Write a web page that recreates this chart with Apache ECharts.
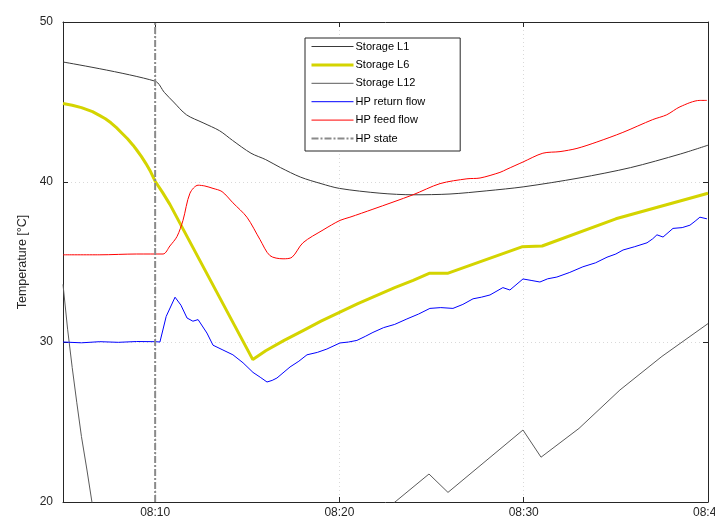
<!DOCTYPE html>
<html><head><meta charset="utf-8">
<script src="https://cdn.jsdelivr.net/npm/echarts@6/dist/echarts.min.js"></script>
<style>html,body{margin:0;padding:0;background:#fff}#c{width:715px;height:518px}</style>
</head><body><div id="c"></div>
<script>
// x values: minutes after 08:00
const xTicks = [10, 20, 30, 40];
const yTicks = [20, 30, 40, 50];
const seriesNames = ['Storage L1', 'Storage L6', 'Storage L12', 'HP return flow', 'HP feed flow', 'HP state'];

const tL1 = [5, 10, 10.5, 11, 11.7, 12.6, 13.5, 14.2, 15.2, 16, 16.8, 17.9, 19, 20, 22.2, 24, 26, 28, 30, 33, 35.8, 38.5, 40];
const vL1 = [47.5, 46.3, 45.6, 45.0, 44.2, 43.7, 43.2, 42.6, 41.8, 41.4, 40.9, 40.3, 39.9, 39.6, 39.3, 39.2, 39.25, 39.45, 39.7, 40.25, 40.9, 41.75, 42.3];

const tL6 = [5, 5.5, 6, 6.6, 7, 7.3, 7.6, 7.9, 8.2, 8.5, 8.8, 9, 9.25, 9.5, 9.75, 10, 10.4, 10.8, 15.3, 16, 17, 18, 19, 20, 21, 22, 23, 24, 24.9, 25.9, 29.9, 31, 35, 40];
const vL6 = [44.9, 44.8, 44.65, 44.4, 44.15, 43.95, 43.7, 43.4, 43.05, 42.7, 42.3, 42.0, 41.6, 41.15, 40.65, 40.05, 39.35, 38.6, 28.9, 29.45, 30.1, 30.7, 31.3, 31.85, 32.4, 32.9, 33.4, 33.85, 34.3, 34.3, 35.95, 36.0, 37.7, 39.3];

const tL12 = [5, 5.25, 5.5, 5.75, 6, 6.3, 6.57, 6.8, 15, 22.8, 23.12, 24.86, 25.89, 29.96, 30.94, 33, 35.22, 37.5, 40];
const vL12 = [33.6, 30.8, 28.4, 26.2, 24.1, 22.0, 20.0, 18.6, null, 19.8, 20.1, 21.75, 20.6, 24.5, 22.8, 24.6, 27.0, 29.1, 31.15];

const tRet = [5, 6, 7, 8, 9, 10, 10.26, 10.6, 11.08, 11.4, 11.73, 12.05, 12.33, 12.81, 13.14, 13.68, 14.22, 14.77, 15.31, 15.7, 16.07, 16.35, 16.61, 17.32, 17.8, 18.24, 18.8, 19.32, 20.03, 20.5, 20.95, 21.4, 21.82, 22.4, 23.0, 23.66, 24.3, 24.91, 25.5, 26.16, 26.7, 27.25, 27.7, 28.17, 28.87, 29.25, 29.96, 30.4, 30.88, 31.3, 31.8, 32.5, 33.21, 33.9, 34.52, 35.0, 35.39, 36.0, 36.69, 37.0, 37.23, 37.56, 38.1, 38.6, 39.02, 39.3, 39.56, 39.94];
const vRet = [30.0, 29.95, 30.02, 29.98, 30.03, 30.02, 30.0, 31.6, 32.8, 32.3, 31.5, 31.3, 31.4, 30.56, 29.8, 29.5, 29.2, 28.7, 28.1, 27.8, 27.5, 27.6, 27.75, 28.44, 28.8, 29.2, 29.35, 29.56, 29.94, 30.0, 30.1, 30.35, 30.6, 30.9, 31.1, 31.44, 31.75, 32.1, 32.15, 32.1, 32.35, 32.7, 32.8, 32.94, 33.4, 33.25, 33.94, 33.85, 33.75, 33.95, 34.06, 34.35, 34.7, 34.95, 35.3, 35.5, 35.75, 35.95, 36.2, 36.45, 36.7, 36.56, 37.1, 37.15, 37.3, 37.55, 37.8, 37.7];

const tFeed = [5, 7, 9, 10.43, 10.8, 11.19, 11.51, 11.89, 12.33, 12.7, 13.14, 13.63, 14.22, 14.98, 15.69, 16.23, 16.94, 17.43, 18.02, 19.11, 20.03, 20.57, 21.82, 23.99, 25.46, 26.92, 27.63, 28.71, 29.09, 29.96, 31.04, 31.97, 32.89, 33.97, 35.38, 37.0, 37.76, 38.48, 39.56, 39.94];
const vFeed = [35.45, 35.45, 35.5, 35.5, 36.0, 36.6, 37.6, 39.3, 39.8, 39.75, 39.6, 39.4, 38.7, 37.8, 36.4, 35.4, 35.2, 35.3, 36.2, 37.0, 37.6, 37.8, 38.3, 39.2, 39.9, 40.2, 40.25, 40.6, 40.8, 41.25, 41.8, 41.9, 42.1, 42.5, 43.1, 43.9, 44.2, 44.7, 45.1, 45.1];

const tState = [10, 10];
const vState = [20, 50];

function pairs(t, v) { return t.map((x, i) => [x, v[i]]); }
function fmtTime(m) { const h = 8 + Math.floor(m / 60); const mm = m % 60; return String(h).padStart(2, '0') + ':' + String(mm).padStart(2, '0'); }

const chart = echarts.init(document.getElementById('c'), null, { renderer: 'canvas' });
const font = 'Liberation Sans, Arial, Helvetica, sans-serif';
const axisLineStyle = { color: '#262626', width: 1 };
const gridLine = { show: true, lineStyle: { color: '#d9d9d9', type: [1, 3], width: 1 } };

function mkSeries(name, data, color, width, extra) {
  return Object.assign({
    name: name, type: 'line', data: data, showSymbol: false, symbol: 'none',
    lineStyle: { color: color, width: width }, itemStyle: { color: color },
    emphasis: { disabled: true }, animation: false, connectNulls: false, clip: true
  }, extra || {});
}

chart.setOption({
  animation: false,
  textStyle: { fontFamily: font },
  grid: { left: 63, right: 7, top: 22, bottom: 16, containLabel: false, outerBoundsMode: 'none' },
  legend: {
    orient: 'vertical', left: 305, top: 38, itemWidth: 42, itemHeight: 10, itemGap: 7.4,
    backgroundColor: '#fff', borderColor: '#262626', borderWidth: 1, borderRadius: 0,
    padding: [3, 35, 7, 5],
    itemStyle: { opacity: 0, borderWidth: 0 },
    lineStyle: { width: 'inherit' },
    textStyle: { fontFamily: font, fontSize: 11, color: '#000', padding: [0, 0, 0, -3] },
    data: seriesNames
  },
  xAxis: [{
    type: 'value', min: 5, max: 40, position: 'bottom',
    axisLine: { show: true, lineStyle: axisLineStyle },
    axisTick: { show: true, inside: true, length: 5, customValues: xTicks, lineStyle: axisLineStyle },
    axisLabel: { customValues: xTicks, formatter: v => fmtTime(v), fontSize: 12, color: '#262626', margin: 5, fontFamily: font },
    splitLine: gridLine
  }, {
    type: 'value', min: 5, max: 40, position: 'top',
    axisLine: { show: true, lineStyle: axisLineStyle },
    axisTick: { show: true, inside: true, length: 5, customValues: xTicks, lineStyle: axisLineStyle },
    axisLabel: { show: false, customValues: xTicks },
    splitLine: { show: false }
  }],
  yAxis: [{
    type: 'value', min: 20, max: 50, interval: 10, position: 'left',
    name: 'Temperature [°C]', nameLocation: 'middle', nameGap: 33,
    nameTextStyle: { fontSize: 12.5, color: '#262626', fontFamily: font },
    axisLine: { show: true, lineStyle: axisLineStyle },
    axisTick: { show: true, inside: true, length: 5, lineStyle: axisLineStyle },
    axisLabel: { fontSize: 12, color: '#262626', margin: 10, fontFamily: font },
    splitLine: gridLine
  }, {
    type: 'value', min: 20, max: 50, interval: 10, position: 'right',
    axisLine: { show: true, lineStyle: axisLineStyle },
    axisTick: { show: true, inside: true, length: 5, lineStyle: axisLineStyle },
    axisLabel: { show: false },
    splitLine: { show: false }
  }],
  series: [
    mkSeries('Storage L1', pairs(tL1, vL1), '#3a3a3a', 1, { smooth: 0.3 }),
    mkSeries('Storage L6', pairs(tL6, vL6), '#d4d400', 3),
    mkSeries('Storage L12', pairs(tL12, vL12), '#5a5a5a', 1),
    mkSeries('HP return flow', pairs(tRet, vRet), '#0000ff', 1),
    mkSeries('HP feed flow', pairs(tFeed, vFeed), '#ff0000', 1, { smooth: 0.3 }),
    mkSeries('HP state', pairs(tState, vState), '#8a8a8a', 2, { lineStyle: { color: '#8a8a8a', width: 2, type: [7, 2, 2, 2] } })
  ]
});
</script>
</body></html>
